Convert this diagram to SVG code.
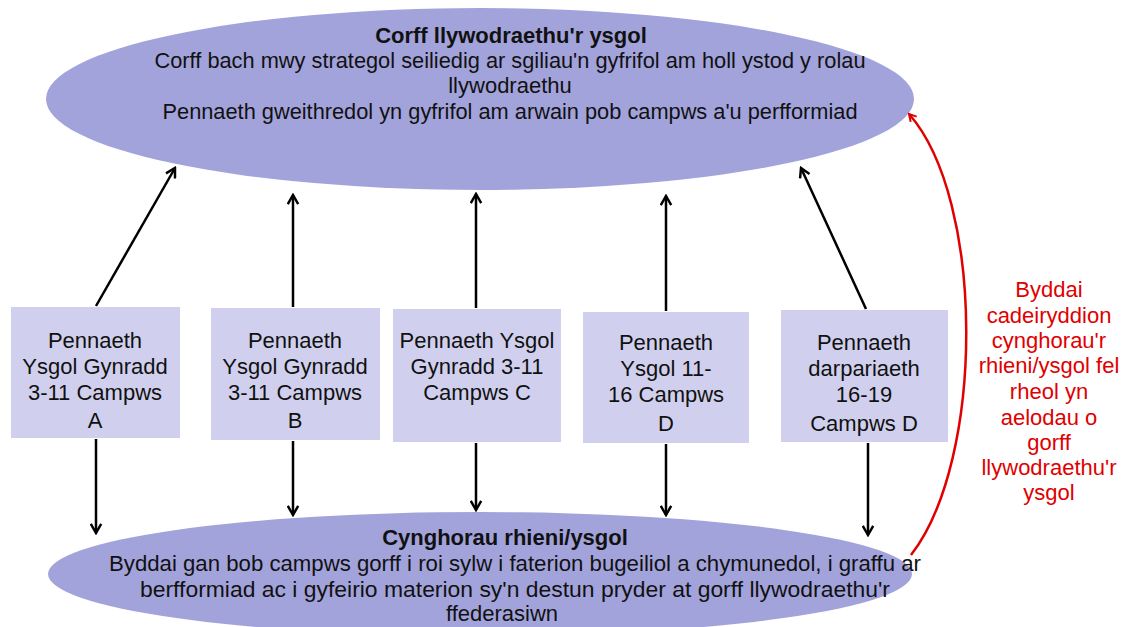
<svg xmlns="http://www.w3.org/2000/svg" width="1125" height="627" viewBox="0 0 1125 627">
<defs>
<marker id="ah" viewBox="0 0 10 10" refX="8.5" refY="5" markerWidth="13" markerHeight="13" markerUnits="userSpaceOnUse" orient="auto"><path d="M1.5,1 L8.5,5 L1.5,9" fill="none" stroke="#000" stroke-width="1.9"/></marker>
<marker id="ahr" viewBox="0 0 10 10" refX="8.5" refY="5" markerWidth="10" markerHeight="10" markerUnits="userSpaceOnUse" orient="auto"><path d="M1.5,1 L8.5,5 L1.5,9" fill="none" stroke="#e00000" stroke-width="2"/></marker>
<style>
text{font-family:"Liberation Sans",Arial,sans-serif;fill:#111;}
.big{font-size:22px;text-anchor:middle;}
.b{font-weight:bold;}
.box{fill:#d0d0ee;}
.ell{fill:#a3a3dc;}
.red{fill:#e00000;font-size:22px;text-anchor:middle;}
.c{stroke:#000;stroke-width:2.5;fill:none;marker-end:url(#ah);}
</style>
</defs>
<rect width="1125" height="627" fill="#fff"/>
<g id="governing-body">
<ellipse class="ell" cx="480" cy="99" rx="434" ry="91"/>
<text class="big b" x="511" y="43">Corff llywodraethu'r ysgol</text>
<text class="big" x="510" y="68" textLength="711" lengthAdjust="spacingAndGlyphs">Corff bach mwy strategol seiliedig ar sgiliau'n gyfrifol am holl ystod y rolau</text>
<text class="big" x="510" y="93">llywodraethu</text>
<text class="big" x="510" y="119" textLength="695" lengthAdjust="spacingAndGlyphs">Pennaeth gweithredol yn gyfrifol am arwain pob campws a'u perfformiad</text>
</g>
<g id="councils">
<ellipse class="ell" cx="480" cy="574" rx="432" ry="62"/>
<text class="big b" x="505" y="545">Cynghorau rhieni/ysgol</text>
<text class="big" x="515" y="571" textLength="812" lengthAdjust="spacingAndGlyphs">Byddai gan bob campws gorff i roi sylw i faterion bugeiliol a chymunedol, i graffu ar</text>
<text class="big" x="515" y="597" textLength="750" lengthAdjust="spacingAndGlyphs">berfformiad ac i gyfeirio materion sy'n destun pryder at gorff llywodraethu'r</text>
<text class="big" x="502" y="621">ffederasiwn</text>
</g>
<g id="head-a">
<rect class="box" x="11" y="307" width="169" height="131"/>
<text class="big" x="95" y="348">Pennaeth</text>
<text class="big" x="95" y="374">Ysgol Gynradd</text>
<text class="big" x="95" y="400">3-11 Campws</text>
<text class="big" x="95" y="428">A</text>
</g>
<g id="head-b">
<rect class="box" x="211" y="308" width="169" height="132"/>
<text class="big" x="295" y="348">Pennaeth</text>
<text class="big" x="295" y="374">Ysgol Gynradd</text>
<text class="big" x="295" y="400">3-11 Campws</text>
<text class="big" x="295" y="428">B</text>
</g>
<g id="head-c">
<rect class="box" x="393" y="309" width="168" height="133"/>
<text class="big" x="477" y="348">Pennaeth Ysgol</text>
<text class="big" x="477" y="374">Gynradd 3-11</text>
<text class="big" x="477" y="400">Campws C</text>
</g>
<g id="head-d">
<rect class="box" x="583" y="312" width="166" height="131"/>
<text class="big" x="666" y="350">Pennaeth</text>
<text class="big" x="666" y="376">Ysgol  11-</text>
<text class="big" x="666" y="402">16 Campws</text>
<text class="big" x="666" y="431">D</text>
</g>
<g id="head-e">
<rect class="box" x="781" y="310" width="167" height="132"/>
<text class="big" x="864" y="350">Pennaeth</text>
<text class="big" x="864" y="376">darpariaeth</text>
<text class="big" x="864" y="402">16-19</text>
<text class="big" x="864" y="431">Campws D</text>
</g>
<g id="note">
<text class="red" x="1049" y="297">Byddai</text>
<text class="red" x="1049" y="323">cadeiryddion</text>
<text class="red" x="1049" y="348">cynghorau'r</text>
<text class="red" x="1049" y="373">rhieni/ysgol fel</text>
<text class="red" x="1049" y="399">rheol yn</text>
<text class="red" x="1049" y="425">aelodau o</text>
<text class="red" x="1049" y="450">gorff</text>
<text class="red" x="1049" y="475">llywodraethu'r</text>
<text class="red" x="1049" y="500">ysgol</text>
</g>
<g id="connectors">
<line class="c" x1="96" y1="306" x2="175" y2="168"/>
<line class="c" x1="293" y1="307" x2="293" y2="195"/>
<line class="c" x1="476" y1="308" x2="476" y2="194"/>
<line class="c" x1="666" y1="311" x2="666" y2="196"/>
<line class="c" x1="866" y1="309" x2="801" y2="168"/>
<line class="c" x1="96" y1="439" x2="96" y2="533"/>
<line class="c" x1="293" y1="441" x2="293" y2="515"/>
<line class="c" x1="476" y1="443" x2="476" y2="510"/>
<line class="c" x1="666" y1="444" x2="666" y2="515"/>
<line class="c" x1="868" y1="443" x2="868" y2="535"/>
<path d="M911,555 C985,460 985,200 909,114" fill="none" stroke="#e00000" stroke-width="2.5" marker-end="url(#ahr)"/>
</g>
</svg>
